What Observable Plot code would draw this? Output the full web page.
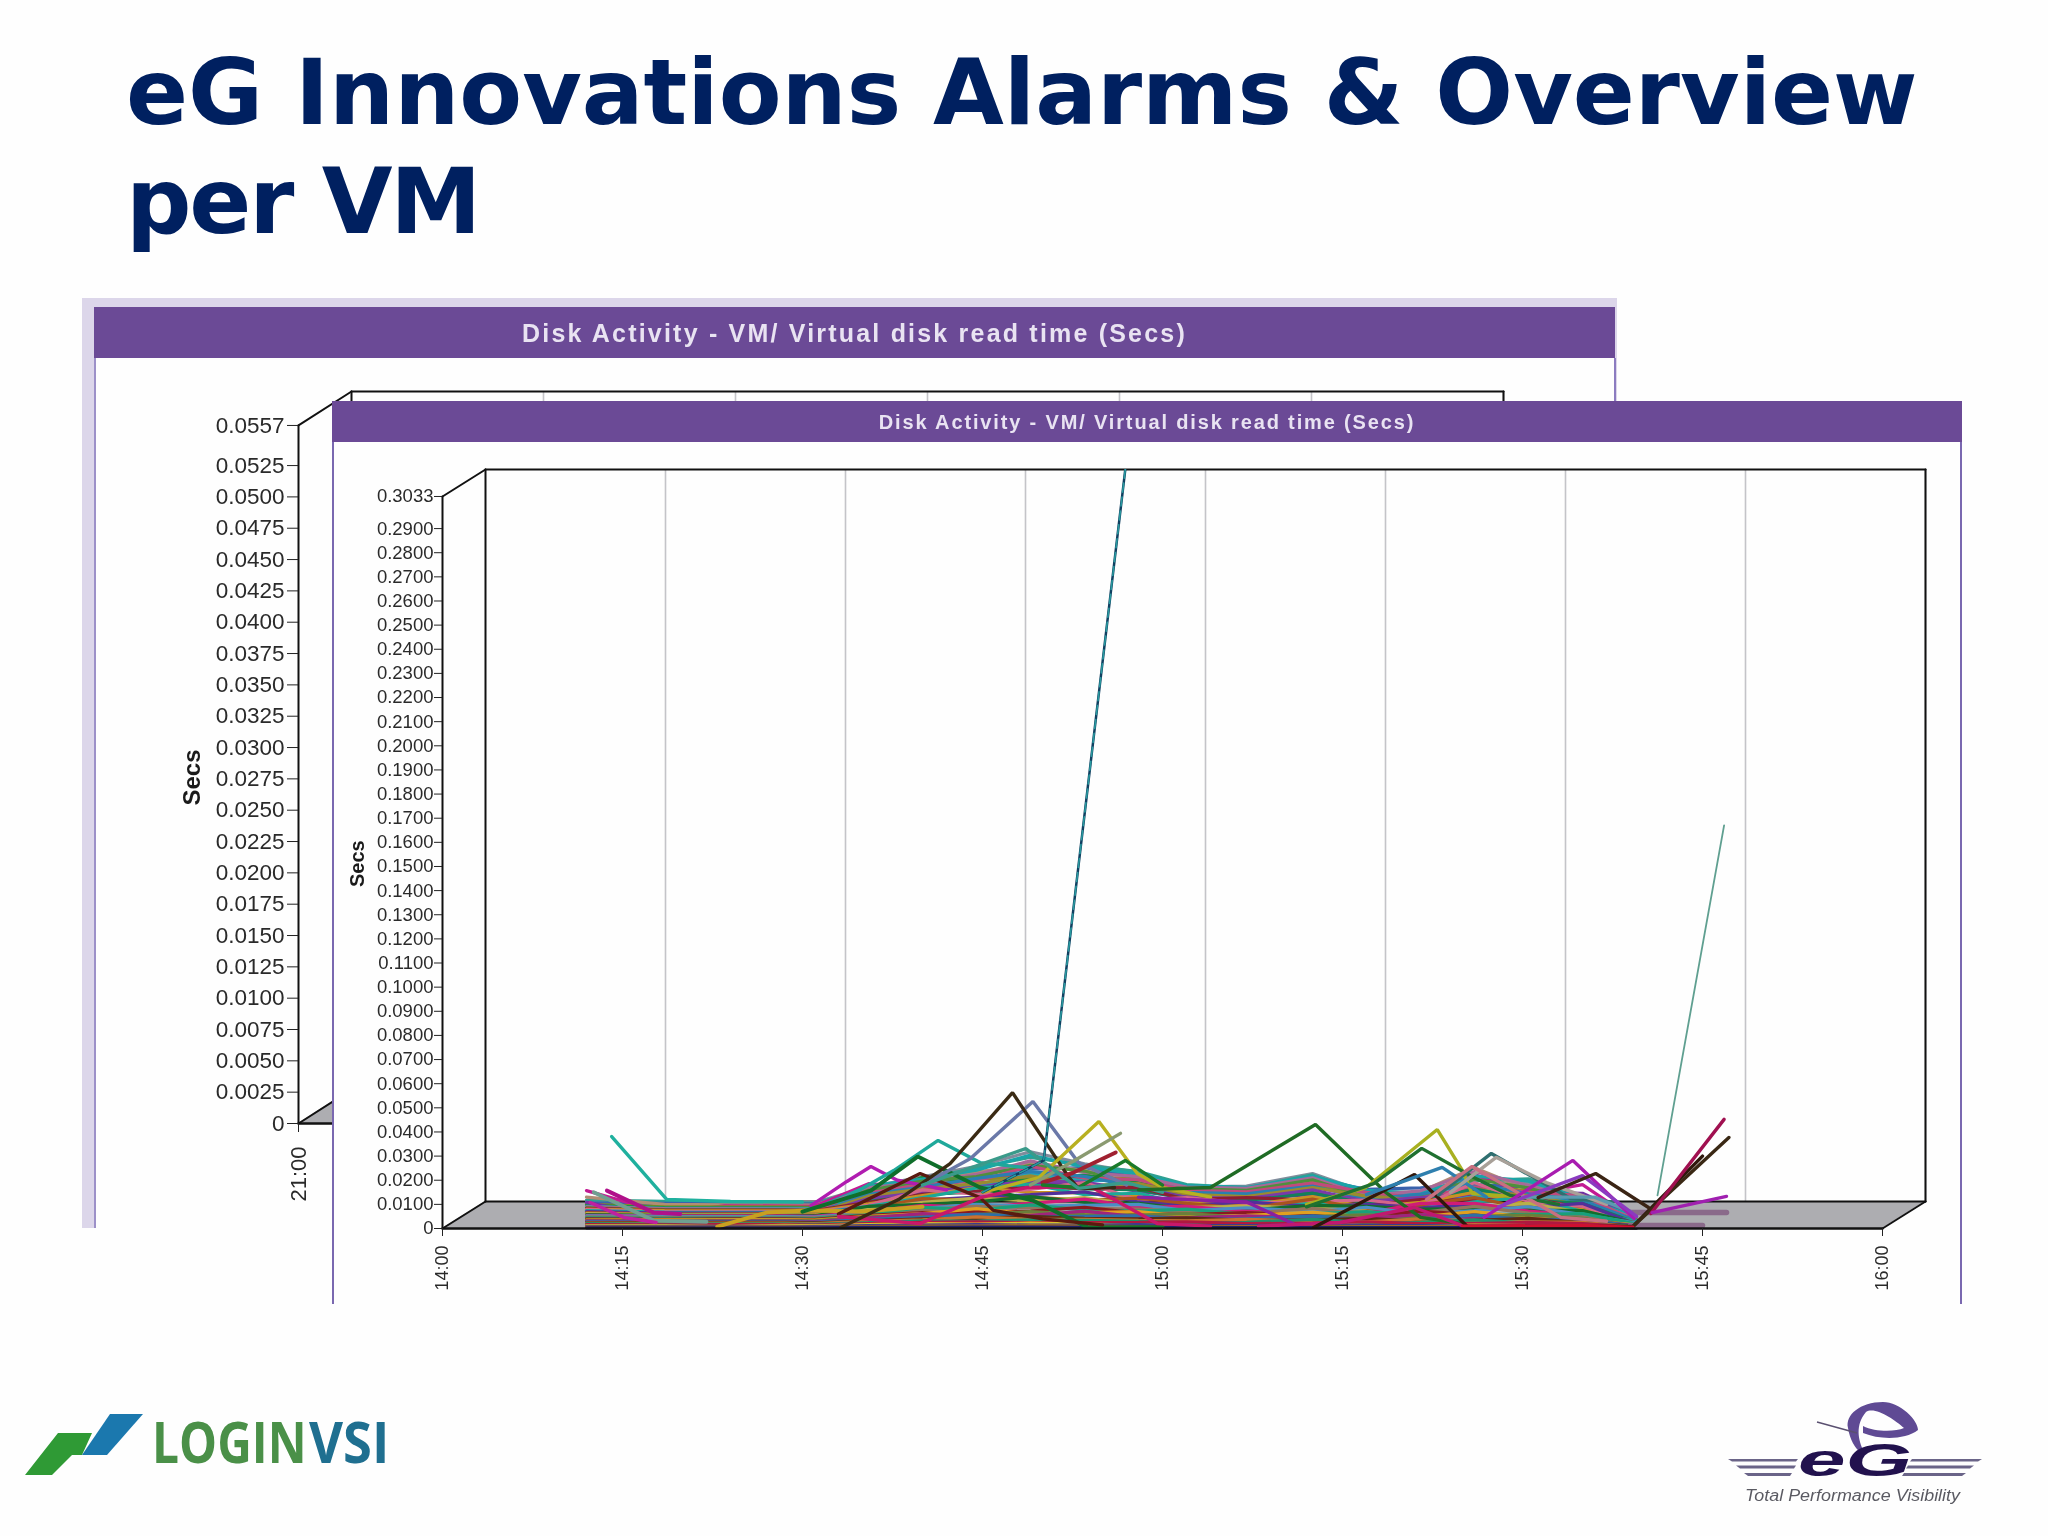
<!DOCTYPE html>
<html><head><meta charset="utf-8">
<script src="https://cdn.jsdelivr.net/npm/d3@7"></script>
<script src="https://cdn.jsdelivr.net/npm/@observablehq/plot@0.6"></script>
<style>
html,body{margin:0;padding:0;background:#fefefe;}
#page{position:relative;width:2048px;height:1536px;overflow:hidden;background:#fefefe;filter:blur(.7px);}
h1{position:absolute;left:126px;top:38px;margin:0;font:bold 91.5px/109px "DejaVu Sans";color:#002060;white-space:nowrap;}
h1 span{letter-spacing:-2.2px;}
.abs{position:absolute;}
.hd{position:absolute;background:#6b4a96;color:#e9e3f2;font-family:"Liberation Sans";font-weight:bold;text-align:center;white-space:nowrap;}
#backOuter{left:82px;top:298px;width:1535px;height:930px;background:#dcd6ea;}
#backBody{left:94px;top:358px;width:1518px;height:870px;background:#fefefe;border-left:2px solid #9c90c8;border-right:2px solid #8c7cc0;}
#backHd{left:94px;top:307px;width:1521px;height:51px;line-height:52px;font-size:25px;letter-spacing:2.2px;}
#frontBody{left:332px;top:442px;width:1626px;height:862px;background:#fefefe;border-left:2px solid #7a68b0;border-right:2px solid #7a68b0;}
#frontHd{left:332px;top:401px;width:1630px;height:41px;line-height:42px;font-size:20px;letter-spacing:1.85px;}
#backChart{left:94px;top:358px;}
#frontChart{left:333px;top:442px;}
svg text{font-family:"Liberation Sans";}
</style></head><body>
<div id="page">
<h1>eG Innovations Alarms &amp; Overview<br><span>per VM</span></h1>
<div class="abs" id="backOuter"></div>
<div class="abs" id="backBody"></div>
<div class="hd" id="backHd">Disk Activity - VM/ Virtual disk read time (Secs)</div>
<div class="abs" id="backChart"></div>
<div class="abs" id="frontBody"></div>
<div class="hd" id="frontHd">Disk Activity - VM/ Virtual disk read time (Secs)</div>
<div class="abs" id="frontChart"></div>
<svg class="abs" style="left:0;top:0" width="2048" height="1536" id="logos">
  <polygon points="58,1433 92,1433 82,1455 72,1455 52,1475 25,1475" fill="#2f9a35"/>
  <polygon points="110,1414 143,1414 107,1455 82,1455" fill="#1b78ae"/>
  <text transform="translate(152,1463) scale(.84,1)" style="font-family:'Open Sans'" font-weight="bold" font-size="57" fill="#4a9048">LOGIN</text>
  <text transform="translate(309,1463) scale(.92,1)" style="font-family:'Open Sans'" font-weight="bold" font-size="57" fill="#1f6f90">VSI</text>
  <g fill="#6a6488">
    <polygon points="1728,1459 1798,1459 1796,1461.5 1732,1461.5"/><polygon points="1736,1465.5 1796,1465.5 1794,1468.5 1740,1468.5"/><polygon points="1744,1473 1792,1473 1790,1476 1748,1476"/>
    <polygon points="1912,1459 1982,1459 1978,1461.5 1910,1461.5"/><polygon points="1908,1465.5 1974,1465.5 1970,1468.5 1906,1468.5"/><polygon points="1904,1473 1966,1473 1962,1476 1902,1476"/>
  </g>
  <path d="M1883,1402 C1860,1402 1845,1415 1848,1428 C1850,1440 1855,1448 1860,1452 L1864,1452 C1858,1440 1855,1425 1866,1412 C1875,1406 1895,1420 1904,1428 C1895,1432 1875,1432 1863,1426 L1863,1433 C1880,1440 1905,1440 1918,1430 C1918,1420 1900,1402 1883,1402 Z" fill="#5f4a94"/>
  <line x1="1817" y1="1422" x2="1857" y2="1433" stroke="#5a5070" stroke-width="1.5"/>
  <text x="1798" y="1476" font-weight="bold" font-style="italic" font-size="46" fill="#22124e" textLength="114" lengthAdjust="spacingAndGlyphs">eG</text>
  <text x="1745" y="1500.5" font-style="italic" font-size="16" fill="#5a5a62" textLength="215" lengthAdjust="spacingAndGlyphs">Total Performance Visibility</text>
</svg>
</div>
<script>
// --- front chart axes ---
const frontTickMinutes = [0,15,30,45,60,75,90,105,120];
const frontYTicks = [0,0.01,0.02,0.03,0.04,0.05,0.06,0.07,0.08,0.09,0.10,0.11,0.12,0.13,0.14,0.15,0.16,0.17,0.18,0.19,0.20,0.21,0.22,0.23,0.24,0.25,0.26,0.27,0.28,0.29,0.3033];
// --- back chart axes ---
const backTickMinutes = [0];
const backGridMinutes = [0,15,30,45,60,75,90];
const backYTicks = [0,0.0025,0.005,0.0075,0.01,0.0125,0.015,0.0175,0.02,0.0225,0.025,0.0275,0.03,0.0325,0.035,0.0375,0.04,0.0425,0.045,0.0475,0.05,0.0525,0.0557];
// --- dense series: minutes after 14:00, values in 1/10000 s, back row first ---
const denseMinutes = [12,18.5,23.5,28.5,31,35.5,40,44.5,49,53.5,58,62,67,72.5,77,81.5,86,90.5,95,99.5];
const denseColors = ["#808c9c","#2fa090","#3a62ac","#b28c74","#c21a92","#8c8c22","#1b8c3b","#7232a2","#24a4b4","#1aa4a8","#a86898","#4f8f3c","#c04a7c","#2a7fb0","#9a8a30","#7a3aa8","#14805a","#8e1e32","#c89222","#d4668a","#1aa899","#52309a","#a8541e","#b8b04a","#136c2c","#d01c78","#4a8fc4","#92745c","#19a07a","#8a1a20","#e0a020","#6a7f3a","#a0247c","#2d6fa6","#5c2a14","#c8732e","#1f8f6a","#b01840","#d8c028","#3c3c8c","#a06a28","#20206a"];
const denseRows = [
[110,110,110,108,108,172,214,258,318,268,232,172,176,228,150,152,208,188,132,55],
[118,112,108,106,105,160,205,250,295,262,236,182,168,222,142,140,198,206,118,42],
[105,104,103,102,101,150,188,236,246,252,212,174,160,206,162,168,182,172,126,50],
[130,100,98,98,97,165,200,232,272,240,198,160,150,196,130,152,252,160,112,36],
[157,64,94,93,92,186,168,214,224,208,188,150,140,182,146,128,224,142,182,30],
[100,90,90,90,88,130,176,206,212,198,210,146,130,190,120,122,170,158,100,38],
[96,87,86,86,84,126,212,188,202,222,188,136,118,150,110,138,160,134,94,28],
[108,46,82,82,80,120,150,182,190,176,164,140,126,140,126,112,140,150,146,44],
[88,80,79,79,77,118,170,178,226,196,204,168,108,126,150,96,132,118,122,34],
[92,84,84,83,82,176,205,242,304,255,225,178,170,216,158,146,218,196,124,48],
[90,82,81,80,79,170,190,224,280,232,215,172,166,210,136,156,236,178,115,40],
[86,78,77,77,75,158,196,215,262,238,180,165,158,202,128,134,204,168,108,36],
[82,72,71,71,69,148,182,196,258,210,202,158,152,188,150,126,176,150,136,30],
[76,66,65,65,63,142,172,208,236,216,170,150,144,176,122,142,186,144,116,32],
[72,62,62,62,60,134,164,186,218,178,186,142,132,170,134,118,158,136,96,26],
[68,56,56,56,54,124,150,172,196,192,154,130,124,160,112,128,146,126,88,22],
[60,50,51,51,48,112,140,152,178,164,160,124,116,146,104,110,164,118,104,24],
[84,76,76,76,74,108,142,156,172,166,170,120,128,118,96,120,118,126,86,22],
[80,74,73,73,71,102,136,170,150,148,132,112,96,132,88,108,150,100,78,26],
[78,70,70,70,68,96,160,142,162,190,118,128,104,112,118,92,190,112,92,20],
[74,68,67,67,65,92,128,168,184,140,146,100,88,104,84,76,110,130,70,30],
[70,64,64,64,62,88,118,130,140,152,110,96,110,92,100,88,96,88,104,18],
[66,60,61,61,59,84,124,118,130,118,126,104,82,122,76,98,128,82,60,24],
[62,58,58,58,56,80,108,126,114,128,96,88,92,86,72,70,88,104,66,16],
[58,55,55,55,53,92,100,110,132,108,104,82,76,96,92,80,82,76,74,20],
[54,52,52,52,50,70,96,88,104,122,88,92,72,78,64,104,104,72,54,14],
[52,50,49,49,47,66,84,100,92,96,100,74,86,70,88,60,74,90,58,22],
[48,46,46,46,44,62,78,92,86,84,80,70,62,84,58,66,92,64,48,12],
[44,42,43,43,41,58,88,76,98,76,72,80,58,62,70,56,60,58,62,18],
[40,38,40,40,38,54,66,70,72,88,64,58,66,56,50,72,58,52,40,10],
[36,36,37,37,35,50,62,82,60,66,70,50,54,68,46,48,70,46,36,14],
[34,33,34,34,32,48,56,58,70,58,56,62,46,50,56,44,50,56,42,9],
[32,30,31,31,29,44,62,54,54,72,48,44,52,44,42,58,44,40,32,12],
[28,27,28,28,26,38,46,60,48,50,52,38,40,52,36,38,56,36,38,8],
[24,24,25,25,23,32,40,42,50,42,40,44,34,36,42,30,34,42,24,10],
[22,21,22,22,20,30,36,48,38,38,34,32,38,30,28,40,30,28,26,6],
[20,18,19,19,17,24,32,30,36,34,30,24,26,38,24,26,36,22,18,8],
[16,15,16,16,14,20,26,28,24,24,26,28,20,22,28,20,20,26,20,5],
[12,12,8,13,11,16,20,18,22,18,14,10,8,8,8,10,14,12,10,4],
[9,9,9,9,8,12,14,16,14,14,16,12,12,14,12,12,10,12,8,3],
[6,6,6,7,5,8,10,10,12,10,8,8,8,10,8,8,8,8,6,3],
[3,3,3,3,3,5,5,6,6,5,5,5,4,5,4,4,4,5,3,2]
];
// --- individually read lines: [colour, width, minutes, values in 1/10000 s] ---
const peakLines = [
["#8a6a8a",5.5,[99,107],[66,66]],
["#8a6a8a",5.5,[99,105],[12,12]],
["#1fb09e",3.4,[14.1,18.7,24,30],[381,120,112,110]],
["#6f9f90",3.8,[12.6,17.6,22],[150,33,28]],
["#b0108a",4,[13.7,17.6,19.8],[157,66,60]],
["#c020a0",3.4,[12.3,15.1,17.8],[108,46,25]],
["#c8a020",4,[22.9,27,30.4,35,40],[8,66,75,70,90]],
["#b01cb0",3.4,[30.7,33.7,35.7,37.9,42],[95,195,257,200,160]],
["#1fa89a",3.4,[33,37.6,41.3,44.8,49],[110,240,365,273,250]],
["#0f6e2a",4,[30,35.7,39.6,44.8,49.2,53.8,60],[70,157,298,170,116,4,5]],
["#5a1a10",3.4,[33,39.8,44.8,45.9,50,55],[60,228,128,75,40,15]],
["#c8186a",3.4,[33,39.8,44.8,48.7,54,59.6,64],[50,20,128,170,174,20,10]],
["#6a78a8",3.4,[40,44,49.2,53,57],[180,290,526,273,180]],
["#3a2a14",3.4,[33.2,38,42.3,47.5,52.2,53,56],[4,120,269,563,212,166,170]],
["#b8b020",3.4,[45,49.7,54.7,57.9,60,64],[150,211,443,228,170,130]],
["#8a9a70",3.4,[49,52.6,56.5],[180,280,394]],
["#a02030",4,[50,52.5,56.1],[190,230,315]],
["#1a7a2a",3.4,[50,53,56.9,60],[180,170,282,180]],
["#3a9a8a",3.4,[40,44.5,48.6,53,57,60],[180,260,331,166,190,150]],
["#0f3f60",2.5,[45,50.1,56.9],[150,282,3145]],
["#8a20a0",3.4,[58,62,67,70.9],[130,120,110,20]],
["#1f6b24",3.4,[58,64,72.75,78.6,81.5,85],[160,170,431,150,46,20]],
["#c01870",3.4,[68,74.8,81,85.2],[10,25,87,8]],
["#a8b020",3.4,[72,76.9,82.9,85,85.8,90],[100,168,410,240,145,130]],
["#1f7030",3.4,[72,77.6,81.6,85.9,89,93],[90,186,332,212,137,100]],
["#30180c",3.4,[72.6,81,85.4,99.2,105],[4,224,8,8,300]],
["#3a2814",3.4,[99.2,107.2],[8,377]],
["#a01050",3.4,[100.7,106.8],[62,452]],
["#2f7fae",3.4,[77,83.3,87],[140,253,130]],
["#2f6f70",3.4,[83,87.4,94,97.5],[140,311,124,110]],
["#a8a098",3.4,[84,87.8,92,97],[150,295,190,100]],
["#c87080",3.4,[82,85.8,93.2,97],[120,257,46,30]],
["#5a9ab0",3.4,[90,96,99],[130,130,70]],
["#a81cb0",3.4,[86.8,94.2,99.3],[46,282,41]],
["#8a3ac0",3.4,[88,95,99.5],[90,219,50]],
["#3a2414",3.4,[91.3,96.1,100.5],[128,228,87]],
["#d01030",3.4,[85,95,99.2],[10,12,5]],
["#a020b0",3.4,[100.8,107],[66,133]],
["#5f9f90",1.8,[101.25,106.8],[137,1670]]
];
const tealDashLine = [[45,50.1,56.9],[150,282,3145]];

// --- chart geometry in data units ---
const frontDepthMin = 43/12, frontDepthVal = 0.01119, frontMaxMin = 120;
const frontTop = 0.31448;
const backDepthMin = 53/12.8, backDepthVal = 0.00271, backMaxMin = 90;
const backTop = 0.05841;

const frontClock = m => new Date(Date.UTC(2010,0,1,14,0) + m*60000);
const backClock = m => new Date(Date.UTC(2010,0,1,21,0) + m*60000);
const hhmm = d3.utcFormat("%H:%M");
const fmt = v => v === 0 ? "0" : v.toFixed(4);

function frame(clock, depthMin, depthVal, maxMin, top, gridMins){
  const seg = (m1,v1,m2,v2,o={}) => Plot.line([[clock(m1),v1],[clock(m2),v2]],{stroke:"#111",strokeWidth:2,...o});
  return [
    Plot.areaY([
      {x:clock(0),a:0,b:0},
      {x:clock(depthMin),a:0,b:depthVal},
      {x:clock(maxMin),a:0,b:depthVal},
      {x:clock(maxMin+depthMin),a:depthVal,b:depthVal}
    ],{x:"x",y1:"a",y2:"b",fill:"#adadb1"}),
    Plot.ruleX(gridMins.map(m=>clock(m+depthMin)),{y1:depthVal,y2:top,stroke:"#c4c4c8",strokeWidth:1.6}),
    seg(depthMin,depthVal,depthMin,top),
    seg(depthMin,top,maxMin+depthMin,top),
    seg(maxMin+depthMin,top,maxMin+depthMin,depthVal),
    seg(depthMin,depthVal,maxMin+depthMin,depthVal),
    seg(0,0,depthMin,depthVal),
    seg(maxMin,0,maxMin+depthMin,depthVal)
  ];
}

// front chart
const denseTable = denseRows.flatMap((row,i)=>row.map((v,j)=>({k:i,c:denseColors[i],x:frontClock(denseMinutes[j]),y:v/10000})));
const frontTopTick = frontYTicks[frontYTicks.length-1];
const frontPlot = Plot.plot({
  width:1628,height:862,marginLeft:109,marginRight:36,marginTop:27,marginBottom:76,
  x:{type:"utc",domain:[frontClock(0),frontClock(frontMaxMin+frontDepthMin)]},
  y:{domain:[0,frontTop]},
  color:{type:"identity"},
  style:{background:"transparent",overflow:"visible"},
  marks:[
    ...frame(frontClock,frontDepthMin,frontDepthVal,frontMaxMin,frontTop,frontTickMinutes.slice(1)),
    Plot.line(denseTable,{x:"x",y:"y",z:"k",stroke:"c",strokeWidth:3.2,strokeLinejoin:"miter"}),
    ...peakLines.map(([c,w,ms,vs])=>Plot.line(ms.map((m,i)=>({x:frontClock(m),y:vs[i]/10000})),{x:"x",y:"y",stroke:c,strokeWidth:w,strokeLinejoin:"miter",clip:true})),
    Plot.line(tealDashLine[0].map((m,i)=>({x:frontClock(m),y:tealDashLine[1][i]/10000})),{x:"x",y:"y",stroke:"#2a9aa0",strokeWidth:1.6,strokeDasharray:"9,5",clip:true}),
    Plot.line([{x:frontClock(0),y:0},{x:frontClock(frontMaxMin),y:0}],{x:"x",y:"y",stroke:"#111",strokeWidth:2.4}),
    Plot.line([{x:frontClock(0),y:0},{x:frontClock(0),y:frontTopTick}],{x:"x",y:"y",stroke:"#111",strokeWidth:2}),
    Plot.line([{x:frontClock(0),y:frontTopTick},{x:frontClock(frontDepthMin),y:frontTop}],{x:"x",y:"y",stroke:"#111",strokeWidth:2}),
    Plot.axisY(frontYTicks,{tickFormat:fmt,tickSize:8,tickPadding:1,fontSize:18.5,label:null,stroke:"#222",fill:"#2a2a2a"}),
    Plot.axisX(frontTickMinutes.map(frontClock),{tickFormat:hhmm,tickSize:8,tickPadding:9,tickRotate:-90,fontSize:18,label:null,stroke:"#222",fill:"#2a2a2a"}),
    Plot.text(["Secs"],{frameAnchor:"left",dx:-85,dy:38,rotate:-90,fontSize:20,fontWeight:"bold",fill:"#1a1a1a"})
  ]
});
document.getElementById("frontChart").appendChild(frontPlot);

// back chart
const backTopTick = backYTicks[backYTicks.length-1];
const backPlot = Plot.plot({
  width:1520,height:870,marginLeft:204,marginRight:111,marginTop:33,marginBottom:105,
  x:{type:"utc",domain:[backClock(0),backClock(backMaxMin+backDepthMin)]},
  y:{domain:[0,backTop]},
  style:{background:"transparent",overflow:"visible"},
  marks:[
    ...frame(backClock,backDepthMin,backDepthVal,backMaxMin,backTop,backGridMinutes.slice(1)),
    Plot.line([{x:backClock(0),y:0},{x:backClock(backMaxMin),y:0}],{x:"x",y:"y",stroke:"#111",strokeWidth:2.4}),
    Plot.line([{x:backClock(0),y:0},{x:backClock(0),y:backTopTick}],{x:"x",y:"y",stroke:"#111",strokeWidth:2}),
    Plot.line([{x:backClock(0),y:backTopTick},{x:backClock(backDepthMin),y:backTop}],{x:"x",y:"y",stroke:"#111",strokeWidth:2}),
    Plot.axisY(backYTicks,{tickFormat:fmt,tickSize:11,tickPadding:3,fontSize:22.5,label:null,stroke:"#222",fill:"#2a2a2a"}),
    Plot.axisX(backTickMinutes.map(backClock),{tickFormat:hhmm,tickSize:9,tickPadding:14,tickRotate:-90,fontSize:22,label:null,stroke:"#222",fill:"#2a2a2a"}),
    Plot.text(["Secs"],{frameAnchor:"left",dx:-106,dy:48,rotate:-90,fontSize:24,fontWeight:"bold",fill:"#1a1a1a"})
  ]
});
document.getElementById("backChart").appendChild(backPlot);
</script>
</body></html>
